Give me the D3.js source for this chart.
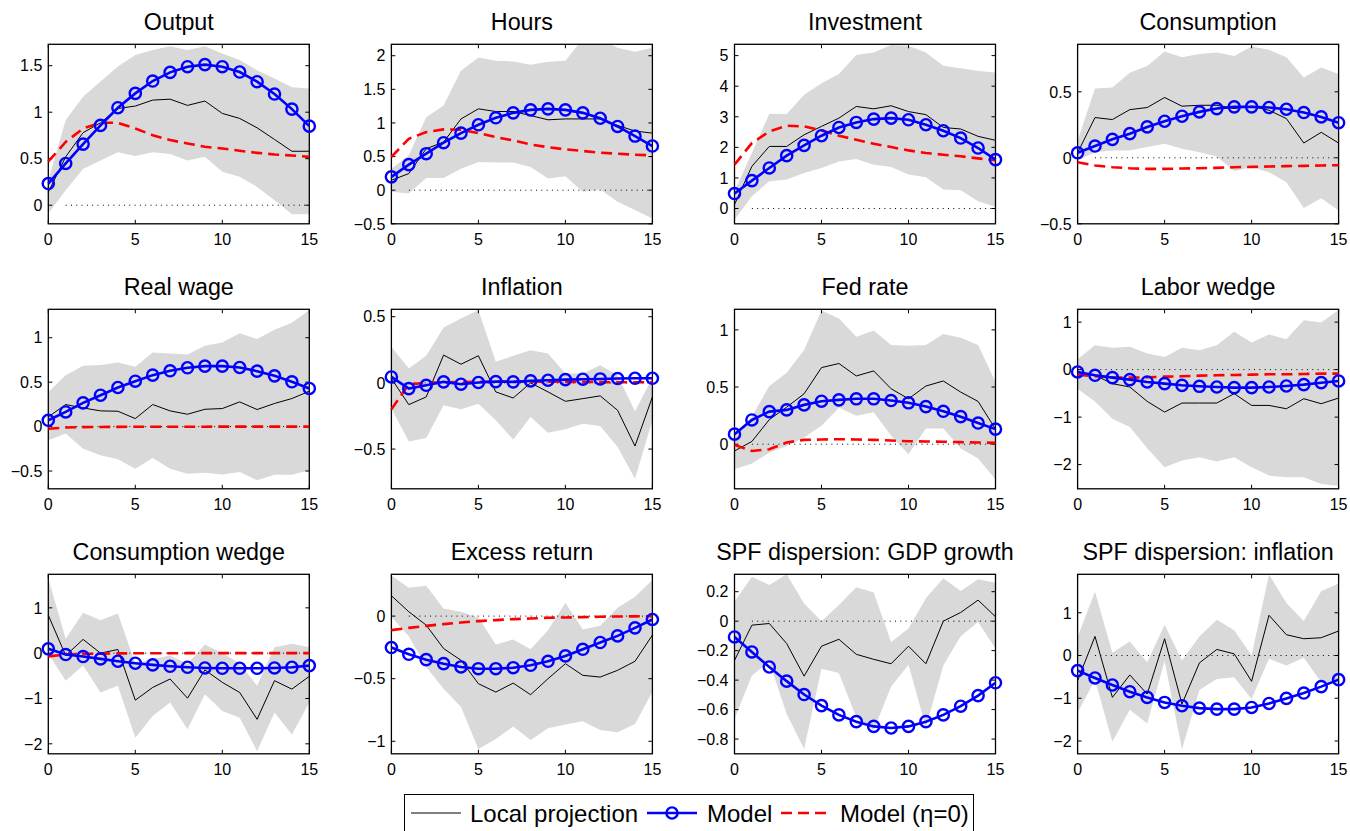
<!DOCTYPE html>
<html>
<head>
<meta charset="utf-8">
<script src="https://cdn.jsdelivr.net/npm/d3@7"></script>
<style>
  body { margin: 0; background: #fff; }
  svg text { font-family: "Liberation Sans", Arial, sans-serif; fill: #000; }
</style>
</head>
<body>
<div id="chart"></div>
<script>
// horizons 0..15
const horizon = d3.range(0, 16);

const titles = ['Output', 'Hours', 'Investment', 'Consumption',
  'Real wage', 'Inflation', 'Fed rate', 'Labor wedge',
  'Consumption wedge', 'Excess return', 'SPF dispersion: GDP growth', 'SPF dispersion: inflation'];

// Output
const outputLp = [0.14, 0.52, 0.78, 0.886, 1.04, 1.066, 1.13, 1.14, 1.073, 1.12, 0.987, 0.933, 0.832, 0.707, 0.58, 0.58];
const outputModel = [0.233, 0.449, 0.657, 0.858, 1.048, 1.202, 1.335, 1.428, 1.489, 1.511, 1.489, 1.432, 1.328, 1.195, 1.033, 0.85];
const outputEta0 = [0.47, 0.68, 0.825, 0.886, 0.886, 0.825, 0.753, 0.70, 0.664, 0.628, 0.61, 0.585, 0.563, 0.545, 0.535, 0.52];
const outputLo = [-0.09, 0.16, 0.39, 0.48, 0.57, 0.53, 0.57, 0.55, 0.48, 0.52, 0.36, 0.305, 0.197, 0.054, -0.097, -0.097];
const outputHi = [0.27, 0.915, 1.166, 1.33, 1.49, 1.615, 1.668, 1.71, 1.668, 1.71, 1.63, 1.56, 1.45, 1.363, 1.267, 1.256];

// Hours
const hoursLp = [0.148, 0.247, 0.617, 0.716, 1.06, 1.21, 1.17, 1.17, 1.11, 1.047, 1.06, 1.06, 1.06, 0.963, 0.879, 0.849];
const hoursModel = [0.198, 0.38, 0.543, 0.706, 0.849, 0.973, 1.077, 1.15, 1.195, 1.21, 1.195, 1.15, 1.07, 0.948, 0.805, 0.657];
const hoursEta0 = [0.494, 0.765, 0.864, 0.904, 0.899, 0.849, 0.79, 0.74, 0.68, 0.64, 0.607, 0.583, 0.558, 0.543, 0.528, 0.518];
const hoursLo = [-0.025, -0.05, 0.183, 0.183, 0.32, 0.42, 0.41, 0.41, 0.346, 0.173, 0.207, -0.025, 0.01, -0.173, -0.296, -0.42];
const hoursHi = [0.32, 0.518, 1.086, 1.259, 1.778, 1.975, 1.926, 1.916, 1.867, 1.911, 1.926, 2.25, 2.25, 2.12, 2.06, 2.12];

// Investment
const investLp = [0.13, 1.38, 2.03, 2.03, 2.41, 2.685, 2.956, 3.337, 3.26, 3.36, 3.17, 3.07, 2.65, 2.6, 2.36, 2.23];
const investModel = [0.489, 0.913, 1.326, 1.728, 2.065, 2.38, 2.65, 2.815, 2.924, 2.956, 2.902, 2.739, 2.543, 2.304, 1.978, 1.598];
const investEta0 = [1.435, 2.14, 2.52, 2.707, 2.685, 2.554, 2.38, 2.25, 2.12, 2.01, 1.9, 1.815, 1.76, 1.707, 1.64, 1.576];
const investLo = [-0.36, 0.4, 0.89, 0.946, 1.16, 1.326, 1.54, 1.62, 1.435, 1.36, 1.11, 1.02, 0.62, 0.6, 0.24, 0.054];
const investHi = [0.565, 1.815, 3.1, 3.09, 3.72, 4.1, 4.4, 5.02, 5.1, 5.35, 5.32, 5.1, 4.67, 4.59, 4.5, 4.45];

// Consumption
const consLp = [0.038, 0.305, 0.29, 0.365, 0.381, 0.457, 0.391, 0.398, 0.398, 0.373, 0.391, 0.36, 0.297, 0.112, 0.193, 0.112];
const consModel = [0.038, 0.089, 0.14, 0.183, 0.234, 0.277, 0.315, 0.348, 0.373, 0.386, 0.386, 0.381, 0.368, 0.343, 0.31, 0.266];
const consEta0 = [-0.033, -0.058, -0.071, -0.079, -0.084, -0.084, -0.081, -0.079, -0.076, -0.071, -0.069, -0.066, -0.063, -0.061, -0.058, -0.056];
const consLo = [-0.02, 0.043, 0.056, 0.056, 0.081, 0.107, 0.069, 0.043, 0.01, -0.1, -0.071, -0.109, -0.185, -0.38, -0.307, -0.4];
const consHi = [0.13, 0.525, 0.533, 0.645, 0.695, 0.805, 0.761, 0.787, 0.797, 0.772, 0.843, 0.818, 0.761, 0.609, 0.685, 0.635];

// Real wage
const wageLp = [0.109, 0.248, 0.21, 0.177, 0.173, 0.09, 0.248, 0.177, 0.139, 0.195, 0.203, 0.278, 0.192, 0.26, 0.316, 0.398];
const wageModel = [0.071, 0.165, 0.267, 0.353, 0.44, 0.511, 0.579, 0.628, 0.662, 0.68, 0.68, 0.665, 0.624, 0.571, 0.504, 0.429];
const wageEta0 = [-0.025, -0.01, -0.006, -0.004, -0.003, -0.002, -0.002, -0.001, -0.001, -0.001, 0, 0, 0, 0, 0, 0];
const wageLo = [-0.154, -0.079, -0.248, -0.323, -0.368, -0.474, -0.353, -0.474, -0.53, -0.519, -0.538, -0.511, -0.605, -0.541, -0.541, -0.492];
const wageHi = [0.39, 0.579, 0.684, 0.692, 0.722, 0.673, 0.835, 0.823, 0.812, 0.91, 0.947, 1.05, 0.985, 1.09, 1.17, 1.31];

// Inflation
const inflLp = [0.033, -0.164, -0.106, 0.21, 0.141, 0.205, -0.068, -0.114, 0, -0.068, -0.139, -0.119, -0.098, -0.207, -0.477, -0.106];
const inflModel = [0.045, -0.043, -0.018, 0.008, -0.01, 0.003, 0.01, 0.008, 0.015, 0.02, 0.025, 0.028, 0.03, 0.033, 0.035, 0.035];
const inflEta0 = [-0.2, -0.01, 0, 0.005, 0.007, 0.008, 0.01, 0.01, 0.01, 0.009, 0.008, 0.007, 0.006, 0.005, 0.005, 0.005];
const inflLo = [-0.194, -0.442, -0.417, -0.169, -0.2, -0.157, -0.283, -0.427, -0.258, -0.376, -0.351, -0.308, -0.326, -0.485, -0.724, -0.283];
const inflHi = [0.273, 0.109, 0.205, 0.419, 0.487, 0.55, 0.159, 0.205, 0.247, 0.222, 0.071, 0.071, 0.134, 0.058, -0.215, 0.038];

// Fed rate
const fedLp = [-0.059, 0.024, 0.215, 0.324, 0.441, 0.67, 0.706, 0.597, 0.641, 0.485, 0.397, 0.509, 0.553, 0.456, 0.374, 0.132];
const fedModel = [0.088, 0.212, 0.285, 0.3, 0.344, 0.376, 0.388, 0.397, 0.397, 0.382, 0.362, 0.329, 0.288, 0.241, 0.185, 0.132];
const fedEta0 = [-0.006, -0.059, -0.044, 0.015, 0.038, 0.041, 0.044, 0.041, 0.038, 0.032, 0.026, 0.024, 0.021, 0.018, 0.015, 0.012];
const fedLo = [-0.22, -0.168, -0.074, -0.015, 0.059, 0.162, 0.318, 0.25, 0.279, 0.074, -0.088, 0.138, 0.138, -0.038, -0.126, -0.309];
const fedHi = [0.074, 0.241, 0.509, 0.626, 0.824, 1.17, 1.1, 0.94, 0.994, 0.868, 0.862, 0.868, 0.965, 0.932, 0.868, 0.544];

// Labor wedge
const laborLp = [-0.049, -0.12, -0.296, -0.366, -0.669, -0.894, -0.704, -0.704, -0.704, -0.507, -0.754, -0.754, -0.824, -0.613, -0.718, -0.599];
const laborModel = [-0.049, -0.12, -0.169, -0.211, -0.26, -0.296, -0.331, -0.352, -0.366, -0.38, -0.38, -0.366, -0.345, -0.317, -0.275, -0.239];
const laborEta0 = [-0.106, -0.141, -0.162, -0.169, -0.162, -0.148, -0.141, -0.127, -0.12, -0.113, -0.106, -0.099, -0.099, -0.092, -0.085, -0.085];
const laborLo = [-0.401, -0.669, -1.035, -1.211, -1.655, -2.056, -1.915, -1.845, -1.937, -1.845, -2.056, -2.232, -2.268, -2.268, -2.408, -2.444];
const laborHi = [0.218, 0.514, 0.458, 0.479, 0.338, 0.268, 0.458, 0.408, 0.514, 0.796, 0.57, 0.739, 0.641, 1.042, 0.993, 1.254];

// Consumption wedge
const cwedgeLp = [0.837, -0.052, 0.304, 0, 0.081, -1.037, -0.756, -0.57, -0.993, -0.37, -0.644, -0.867, -1.459, -0.607, -0.793, -0.511];
const cwedgeModel = [0.096, -0.03, -0.074, -0.126, -0.178, -0.222, -0.259, -0.289, -0.311, -0.326, -0.333, -0.333, -0.333, -0.326, -0.311, -0.274];
const cwedgeEta0 = [-0.07, -0.03, -0.015, -0.01, -0.005, -0.003, -0.002, -0.001, 0, 0, 0, 0, 0, 0, 0, 0];
const cwedgeLo = [-0.015, -0.607, -0.274, -0.867, -0.719, -1.867, -1.385, -1.089, -1.681, -0.904, -1.274, -1.422, -2.163, -1.311, -1.793, -1.089];
const cwedgeHi = [1.652, 0.319, 0.889, 0.726, 0.874, -0.237, -0.126, -0.052, -0.237, 0.193, 0, -0.222, -0.719, 0.133, 0.207, 0.133];

// Excess return
const exretLp = [0.163, 0.035, -0.072, -0.259, -0.353, -0.54, -0.607, -0.535, -0.628, -0.5, -0.38, -0.473, -0.487, -0.433, -0.361, -0.152];
const exretModel = [-0.251, -0.305, -0.348, -0.38, -0.406, -0.42, -0.42, -0.412, -0.393, -0.361, -0.318, -0.265, -0.211, -0.158, -0.094, -0.027];
const exretEta0 = [-0.112, -0.094, -0.078, -0.064, -0.051, -0.04, -0.032, -0.024, -0.019, -0.013, -0.011, -0.008, -0.005, -0.003, -0.002, 0];
const exretLo = [-0.005, -0.16, -0.406, -0.58, -0.727, -1.061, -0.981, -0.882, -0.989, -0.896, -0.866, -0.84, -0.909, -0.928, -0.861, -0.607];
const exretHi = [0.324, 0.227, 0.243, 0.061, 0.035, -0.011, -0.227, -0.187, -0.265, -0.112, 0.107, -0.107, -0.078, 0.067, 0.155, 0.289];

// SPF dispersion: GDP growth
const spfGdpLp = [-0.266, -0.027, -0.016, -0.152, -0.373, -0.17, -0.123, -0.225, -0.259, -0.289, -0.17, -0.289, 0, 0.059, 0.143, 0.03];
const spfGdpModel = [-0.107, -0.209, -0.311, -0.407, -0.498, -0.573, -0.636, -0.682, -0.714, -0.725, -0.714, -0.682, -0.636, -0.577, -0.505, -0.418];
const spfGdpLo = [-0.664, -0.368, -0.277, -0.63, -0.868, -0.323, -0.352, -0.652, -0.739, -0.443, -0.295, -0.72, -0.3, -0.102, -0.005, -0.186];
const spfGdpHi = [0.132, 0.302, 0.245, 0.318, 0.12, 0, 0.109, 0.23, 0.195, -0.141, -0.05, 0.155, 0.291, 0.205, 0.284, 0.261];

// SPF dispersion: inflation
const spfInfLp = [-0.588, 0.447, -0.98, -0.455, -0.902, 0.392, -1.137, -0.173, 0.141, 0.039, -0.604, 0.941, 0.486, 0.392, 0.416, 0.573];
const spfInfModel = [-0.353, -0.525, -0.69, -0.847, -0.98, -1.098, -1.176, -1.231, -1.255, -1.255, -1.216, -1.122, -1.004, -0.878, -0.729, -0.565];
const spfInfLo = [-1.333, -0.573, -2.016, -1.271, -1.592, -0.133, -2.196, -0.808, -0.549, -0.51, -1.02, -0.078, -0.235, -0.055, -0.627, -0.682];
const spfInfHi = [0.431, 1.49, 0.063, 0.329, -0.157, 0.722, -0.118, 0.447, 0.839, 0.588, 0, 1.898, 1.231, 0.808, 1.506, 1.686];

// y limits and tick values per panel
const yLimits = [[-0.2, 1.73], [-0.5, 2.17], [-0.5, 5.37], [-0.5, 0.86],
  [-0.7, 1.32], [-0.8, 0.556], [-0.39, 1.18], [-2.51, 1.27],
  [-2.22, 1.74], [-1.1, 0.334], [-0.9, 0.318], [-2.3, 1.9]];
const yTicks = [[0, 0.5, 1, 1.5], [-0.5, 0, 0.5, 1, 1.5, 2], [0, 1, 2, 3, 4, 5], [-0.5, 0, 0.5],
  [-0.5, 0, 0.5, 1], [-0.5, 0, 0.5], [0, 0.5, 1], [-2, -1, 0, 1],
  [-2, -1, 0, 1], [-1, -0.5, 0], [-0.8, -0.6, -0.4, -0.2, 0, 0.2], [-2, -1, 0, 1]];
const xTicks = [0, 5, 10, 15];

const panels = [
  [outputLp, outputModel, outputEta0, outputLo, outputHi],
  [hoursLp, hoursModel, hoursEta0, hoursLo, hoursHi],
  [investLp, investModel, investEta0, investLo, investHi],
  [consLp, consModel, consEta0, consLo, consHi],
  [wageLp, wageModel, wageEta0, wageLo, wageHi],
  [inflLp, inflModel, inflEta0, inflLo, inflHi],
  [fedLp, fedModel, fedEta0, fedLo, fedHi],
  [laborLp, laborModel, laborEta0, laborLo, laborHi],
  [cwedgeLp, cwedgeModel, cwedgeEta0, cwedgeLo, cwedgeHi],
  [exretLp, exretModel, exretEta0, exretLo, exretHi],
  [spfGdpLp, spfGdpModel, null, spfGdpLo, spfGdpHi],
  [spfInfLp, spfInfModel, null, spfInfLo, spfInfHi]
].map((p, i) => ({ title: titles[i], lp: p[0], model: p[1], eta0: p[2], lo: p[3], hi: p[4], ylim: yLimits[i], ticks: yTicks[i] }));

const width = 1350, height = 831;
const pw = 261, ph = 179.5;
const lefts = [48.3, 391.4, 734.5, 1077.6];
const tops = [44.3, 309.3, 574.3];
const fmt = d3.format('~g');

const svg = d3.select('#chart').append('svg')
  .attr('width', width)
  .attr('height', height);

panels.forEach((p, i) => {
  const left = lefts[i % 4], top = tops[Math.floor(i / 4)];
  const g = svg.append('g').attr('transform', 'translate(' + left + ',' + top + ')');

  const x = d3.scaleLinear().domain([0, 15]).range([0, pw]);
  const y = d3.scaleLinear().domain(p.ylim).range([ph, 0]);

  g.append('clipPath').attr('id', 'clip' + i)
    .append('rect').attr('width', pw).attr('height', ph);

  // confidence band
  const area = d3.area()
    .x((d, k) => x(horizon[k]))
    .y0((d, k) => y(p.lo[k]))
    .y1((d, k) => y(p.hi[k]));
  g.append('path')
    .attr('clip-path', 'url(#clip' + i + ')')
    .attr('d', area(p.lo))
    .attr('fill', '#d9d9d9');

  // axes box, ticks inside on all sides
  g.append('rect').attr('width', pw).attr('height', ph)
    .attr('fill', 'none').attr('stroke', '#000').attr('stroke-width', 1.3);

  const tl = 4;
  xTicks.forEach(t => {
    g.append('line').attr('x1', x(t)).attr('x2', x(t)).attr('y1', ph).attr('y2', ph - tl).attr('stroke', '#000');
    g.append('line').attr('x1', x(t)).attr('x2', x(t)).attr('y1', 0).attr('y2', tl).attr('stroke', '#000');
    g.append('text').attr('x', x(t)).attr('y', ph + 21)
      .attr('text-anchor', 'middle').attr('font-size', 16).text(fmt(t));
  });
  p.ticks.forEach(t => {
    g.append('line').attr('x1', 0).attr('x2', tl).attr('y1', y(t)).attr('y2', y(t)).attr('stroke', '#000');
    g.append('line').attr('x1', pw).attr('x2', pw - tl).attr('y1', y(t)).attr('y2', y(t)).attr('stroke', '#000');
    g.append('text').attr('x', -6).attr('y', y(t)).attr('dy', '0.36em')
      .attr('text-anchor', 'end').attr('font-size', 16).text(fmt(t));
  });

  // zero reference line
  g.append('line')
    .attr('x1', x(1)).attr('x2', x(15)).attr('y1', y(0)).attr('y2', y(0))
    .attr('stroke', '#000').attr('stroke-width', 1).attr('stroke-dasharray', '1,4.3');

  const line = d3.line().x((d, k) => x(horizon[k])).y(d => y(d));

  g.append('path').attr('d', line(p.lp))
    .attr('fill', 'none').attr('stroke', '#000').attr('stroke-width', 1);

  if (p.eta0) {
    g.append('path').attr('d', line(p.eta0))
      .attr('fill', 'none').attr('stroke', '#ff0000').attr('stroke-width', 2.6)
      .attr('stroke-dasharray', '11,6');
  }

  g.append('path').attr('d', line(p.model))
    .attr('fill', 'none').attr('stroke', '#0000ff').attr('stroke-width', 2.6);
  g.selectAll('circle.m').data(p.model).enter().append('circle')
    .attr('class', 'm')
    .attr('cx', (d, k) => x(horizon[k]))
    .attr('cy', d => y(d))
    .attr('r', 5.6)
    .attr('fill', 'none').attr('stroke', '#0000ff').attr('stroke-width', 2.4);

  svg.append('text')
    .attr('x', left + pw / 2).attr('y', top - 14)
    .attr('text-anchor', 'middle').attr('font-size', 23.3)
    .text(p.title);
});

// legend
const legend = svg.append('g').attr('transform', 'translate(404,794)');
legend.append('rect').attr('x', 0.5).attr('y', 0.5).attr('width', 569).attr('height', 42)
  .attr('fill', '#fff').attr('stroke', '#000').attr('stroke-width', 1);
const ly = 19;
legend.append('line').attr('x1', 7).attr('x2', 57).attr('y1', ly).attr('y2', ly)
  .attr('stroke', '#000').attr('stroke-width', 1);
legend.append('text').attr('x', 66).attr('y', ly).attr('dy', '0.36em').attr('font-size', 24).text('Local projection');
legend.append('line').attr('x1', 243).attr('x2', 293).attr('y1', ly).attr('y2', ly)
  .attr('stroke', '#0000ff').attr('stroke-width', 2.6);
legend.append('circle').attr('cx', 268).attr('cy', ly).attr('r', 5.6)
  .attr('fill', 'none').attr('stroke', '#0000ff').attr('stroke-width', 2.4);
legend.append('text').attr('x', 303).attr('y', ly).attr('dy', '0.36em').attr('font-size', 24).text('Model');
legend.append('line').attr('x1', 377).attr('x2', 427).attr('y1', ly).attr('y2', ly)
  .attr('stroke', '#ff0000').attr('stroke-width', 2.6).attr('stroke-dasharray', '11,6');
legend.append('text').attr('x', 436).attr('y', ly).attr('dy', '0.36em').attr('font-size', 24).text('Model (η=0)');
</script>
</body>
</html>
